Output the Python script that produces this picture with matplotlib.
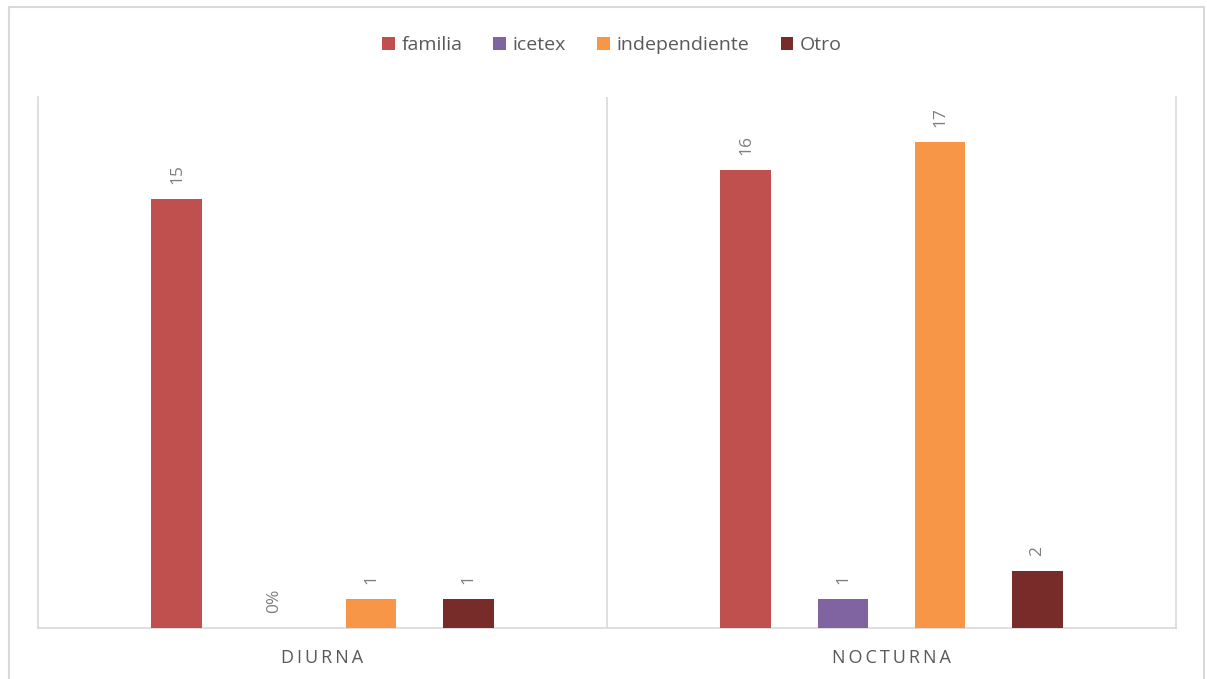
import matplotlib
matplotlib.use("Agg")
import matplotlib.pyplot as plt
import numpy as np
from matplotlib.lines import Line2D
from matplotlib.patches import Patch

plt.rcParams["font.family"] = ["Open Sans", "DejaVu Sans"]

groups = ["DIURNA", "NOCTURNA"]
series = ["familia", "icetex", "independiente", "Otro"]
values = {
    "familia": [15, 16],
    "icetex": [0, 1],
    "independiente": [1, 17],
    "Otro": [1, 2],
}
labels = {
    "familia": ["15", "16"],
    "icetex": ["0%", "1"],
    "independiente": ["1", "17"],
    "Otro": ["1", "2"],
}
colors = ["#C0504D", "#8064A2", "#F79646", "#772C2A"]

W, H = 1207, 679
fig = plt.figure(figsize=(W / 100, H / 100), dpi=100)
ax = fig.add_axes([38 / W, 1 - 628 / H, (1176 - 38) / W, (628 - 97) / H])

GREY = "#D9D9D9"
x = np.arange(len(groups))
step = 0.1705
width = 0.0896
for i, (name, col) in enumerate(zip(series, colors)):
    xs = x + (i - 1.5) * step
    ax.bar(xs, values[name], width=width, color=col, zorder=3)
    for xi, v, lab in zip(xs, values[name], labels[name]):
        ax.annotate(lab, (xi, v), xytext=(0, 11), textcoords="offset points",
                    rotation=90, ha="center", va="bottom", fontsize=12.5,
                    color="#7F7F7F")

ax.set_xlim(-0.5, 1.5)
ax.set_ylim(0, 18.57)
ax.set_yticks([])
ax.set_xticks(x)
ax.set_xticklabels(["\u2009".join(g) for g in groups], fontsize=13, color="#595959")
ax.tick_params(axis="x", length=0, pad=15)
ax.spines["top"].set_visible(False)
for s in ["left", "right", "bottom"]:
    ax.spines[s].set_color(GREY)
    ax.spines[s].set_linewidth(1.2)
ax.axvline(0.5, color=GREY, linewidth=1.2, zorder=1)

# outer chart border (three sides visible)
fig.add_artist(Line2D([9 / W, 9 / W, 1204 / W, 1204 / W], [0, 1 - 7 / H, 1 - 7 / H, 0],
                      color=GREY, linewidth=1.5))

handles = [Patch(facecolor=c, label=s) for s, c in zip(series, colors)]
fig.legend(handles=handles, loc="center", bbox_to_anchor=(612 / W, 1 - 45 / H),
           ncol=4, frameon=False, fontsize=14, handlelength=0.65, handleheight=0.65,
           handletextpad=0.35, columnspacing=1.6, labelcolor="#595959")

fig.savefig("out.png", dpi=100)
